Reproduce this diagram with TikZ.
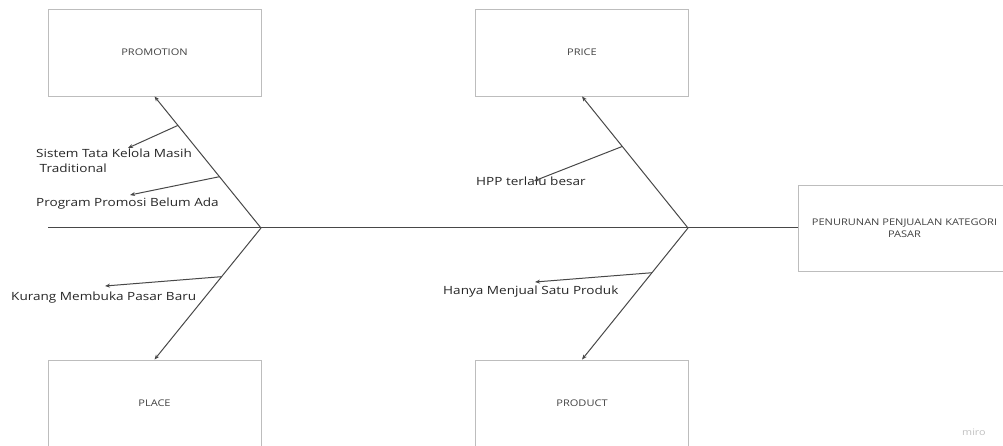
\documentclass[tikz,border=0pt]{standalone}
\usepackage{fontspec}
\setmainfont[FakeStretch=1.2]{Open Sans}
\usetikzlibrary{arrows.meta,calc}
\definecolor{boneline}{HTML}{484848}
\definecolor{boxline}{HTML}{BDBDBD}
\definecolor{labeltext}{HTML}{262626}
\begin{document}
\begin{tikzpicture}[
  x=1pt,y=-1pt,
  catbox/.style={draw=boxline,line width=0.9pt,minimum width=213pt,minimum height=87pt,inner sep=0pt,align=center,text=black!75,font=\fontsize{9.2}{12}\selectfont},
  spine/.style={draw=boneline,line width=1pt},
  bone/.style={draw=boneline,line width=1pt,-{Stealth[length=5pt,width=4pt]}},
  cause/.style={anchor=base west,inner sep=0pt,text=labeltext,align=left,font=\fontsize{11.3}{15}\selectfont}
]
  \useasboundingbox (0,0) rectangle (1003,446);
  \clip (0,0) rectangle (1003,446);

  \node[catbox] (promotion) at (154.5,52.5) {PROMOTION};
  \node[catbox] (price) at (582,52.5) {PRICE};
  \node[catbox] (place) at (154.5,403.5) {PLACE};
  \node[catbox] (product) at (582,403.5) {PRODUCT};
  \node[catbox,minimum height=86pt] (effect) at (904.5,228)
    {PENURUNAN PENJUALAN KATEGORI\\PASAR};

  \coordinate (tail) at (48,228);
  \coordinate (j1) at (261,228);
  \coordinate (j2) at (688,228);
  \draw[spine] (tail) -- (effect.west);

  \draw[bone] (j1) -- (promotion.south);
  \draw[bone] (j1) -- (place.north);
  \draw[bone] (j2) -- (price.south);
  \draw[bone] (j2) -- (product.north);

  \node[cause] (sistem) at (36,173) {Sistem Tata Kelola Masih\\\ Traditional};
  \node[cause] (program) at (36,207) {Program Promosi Belum Ada};
  \node[cause] (kurang) at (11,300) {Kurang Membuka Pasar Baru};
  \node[cause] (hpp) at (476,186) {HPP terlalu besar};
  \node[cause] (hanya) at (443,294) {Hanya Menjual Satu Produk};

  \coordinate (sistemtip) at (128,148);
  \coordinate (programtip) at (130,195);
  \coordinate (kurangtip) at (105,286);
  \coordinate (hpptip) at (534,181);
  \coordinate (hanyatip) at (535,282);
  \draw[bone] ($(j1)!0.78!(promotion.south)$) -- (sistemtip);
  \draw[bone] ($(j1)!0.39!(promotion.south)$) -- (programtip);
  \draw[bone] ($(j1)!0.37!(place.north)$) -- (kurangtip);
  \draw[bone] ($(j2)!0.62!(price.south)$) -- (hpptip);
  \draw[bone] ($(j2)!0.34!(product.north)$) -- (hanyatip);

  \node[anchor=base west,inner sep=0pt,text=black!25,font=\fontsize{9}{10}\selectfont] (watermark) at (962,435) {miro};
\end{tikzpicture}
\end{document}
